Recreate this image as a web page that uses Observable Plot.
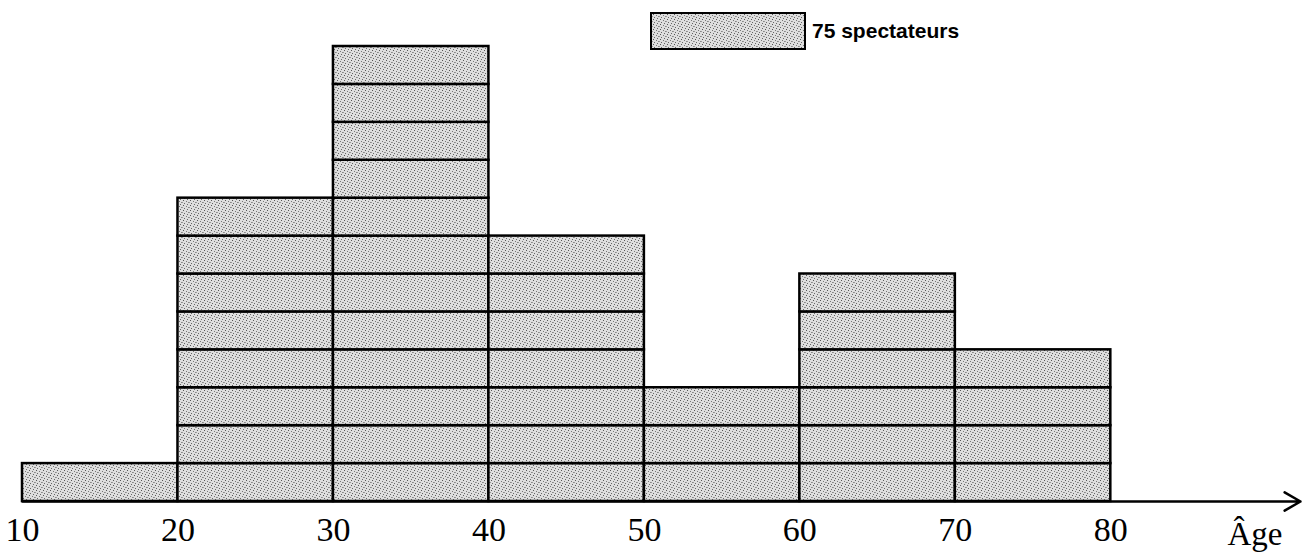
<!DOCTYPE html>
<html>
<head>
<meta charset="utf-8">
<script src="https://cdn.jsdelivr.net/npm/d3@7"></script>
<script src="https://cdn.jsdelivr.net/npm/@observablehq/plot@0.6"></script>
<style>
  html, body { margin: 0; padding: 0; background: #fff; }
  #wrap { position: relative; width: 1302px; height: 558px; }
  #legend { position: absolute; left: 650px; top: 12px; display: flex; align-items: center; }
  #legend .sw { width: 152px; height: 34px; border: 2px solid #000; }
  #legend .sw svg { display: block; }
  #legend .lb { margin-left: 6px; font-family: "Liberation Sans", Arial, sans-serif; font-weight: bold; font-size: 21px; color: #000; }
</style>
</head>
<body>
<svg width="0" height="0" style="position:absolute">
  <defs>
    <pattern id="stipple" width="7" height="5" patternUnits="userSpaceOnUse">
      <rect width="7" height="5" fill="#dedede"/>
      <rect x="1" y="0" width="1" height="1" fill="#555"/>
      <rect x="4" y="1" width="1" height="1" fill="#777"/>
      <rect x="2" y="3" width="1" height="1" fill="#666"/>
      <rect x="6" y="2" width="1" height="1" fill="#888"/>
      <rect x="5" y="4" width="1" height="1" fill="#666"/>
      <rect x="0" y="2" width="1" height="1" fill="#999"/>
    </pattern>
  </defs>
</svg>
<div id="wrap">
  <div id="legend"><div class="sw"><svg width="152" height="34"><rect width="152" height="34" fill="url(#stipple)"/></svg></div><div class="lb"></div></div>
</div>
<script>
// Age classes (lower bounds, upper bounds) and number of boxes (1 box = 75 spectateurs)
const classStarts = [10, 20, 30, 40, 50, 60, 70];
const classEnds   = [20, 30, 40, 50, 60, 70, 80];
const boxCounts   = [1, 8, 12, 7, 3, 6, 4];
const unitValue   = 75;
const unitLabel   = "75 spectateurs";
const tickValues  = [10, 20, 30, 40, 50, 60, 70, 80];
const axisLabel   = "Âge";
const axisExtent  = [10, 92.2];

document.querySelector("#legend .lb").textContent = unitLabel;

const boxes = [];
classStarts.forEach((a, i) => {
  for (let k = 0; k < boxCounts[i]; k++) {
    boxes.push({x1: a, x2: classEnds[i], y1: k * unitValue, y2: (k + 1) * unitValue});
  }
});

const chart = Plot.plot({
  width: 1302,
  height: 558,
  marginLeft: 22,
  marginRight: 2,
  marginTop: 46,
  marginBottom: 57,
  x: {domain: axisExtent},
  y: {domain: [0, d3.max(boxCounts) * unitValue], axis: null},
  style: {background: "#fff", color: "#000"},
  marks: [
    Plot.rect(boxes, {x1: "x1", x2: "x2", y1: "y1", y2: "y2", fill: "url(#stipple)", stroke: "#000", strokeWidth: 2.5}),
    Plot.arrow([{a: axisExtent[0], b: axisExtent[1]}], {x1: "a", x2: "b", y1: () => 0, y2: () => 0, stroke: "#000", strokeWidth: 2.5, headLength: 11, headAngle: 60}),
    Plot.axisX({ticks: tickValues, tickSize: 0, tickPadding: 15, tickFormat: d => String(d), fontSize: 34, fontFamily: "Liberation Serif", dx: 0, label: null}),
    Plot.text([axisLabel], {frameAnchor: "bottom-right", textAnchor: "end", lineAnchor: "top", dy: 20, dx: -18, fontSize: 33, fontFamily: "Liberation Serif"})
  ]
});
document.getElementById("wrap").prepend(chart);
</script>
</body>
</html>
